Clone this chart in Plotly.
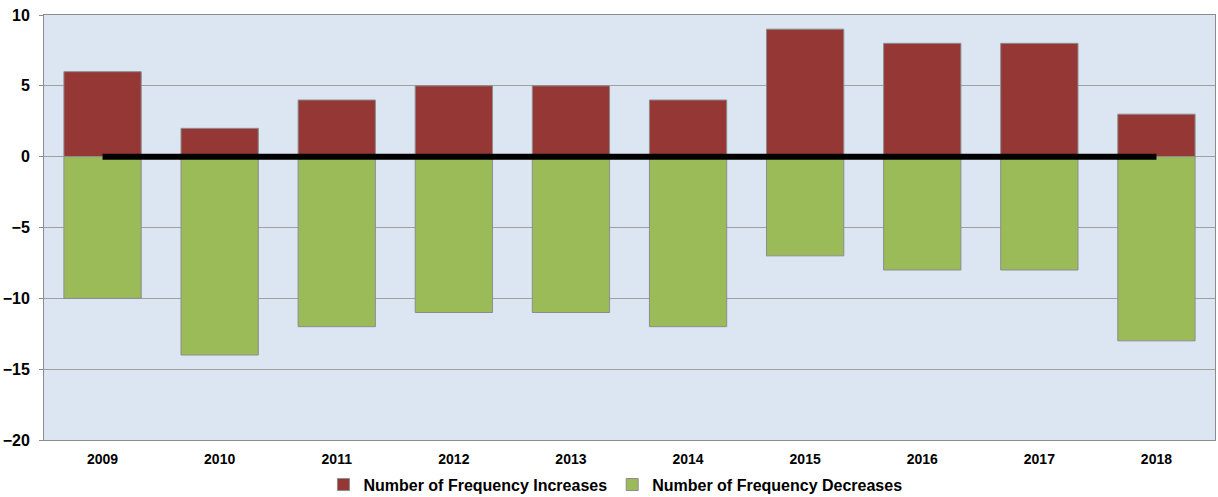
import plotly.graph_objects as go

years = ["2009", "2010", "2011", "2012", "2013", "2014", "2015", "2016", "2017", "2018"]
increases = [6, 2, 4, 5, 5, 4, 9, 8, 8, 3]
decreases = [-10, -14, -12, -11, -11, -12, -7, -8, -8, -13]
baseline = [0] * len(years)

fig = go.Figure()
fig.add_trace(go.Bar(x=years, y=increases, name="Number of Frequency Increases",
                     marker=dict(color="#953735", line=dict(color="#8c8c8c", width=1))))
fig.add_trace(go.Bar(x=years, y=decreases, name="Number of Frequency Decreases",
                     marker=dict(color="#9bbb59", line=dict(color="#8c8c8c", width=1))))
fig.add_trace(go.Scatter(x=years, y=baseline, mode="lines", showlegend=False,
                         line=dict(color="black", width=6), hoverinfo="skip"))

fig.update_layout(
    width=1218, height=497,
    barmode="relative", bargap=0.34,
    plot_bgcolor="#dce6f2", paper_bgcolor="white",
    margin=dict(l=44, r=3, t=15, b=57, autoexpand=False),
    font=dict(family="Liberation Sans, Arial, sans-serif", color="black"),
    legend=dict(orientation="h", x=0.488, xanchor="center", y=-0.105, yanchor="middle",
                font=dict(size=16, family="Liberation Sans, Arial, sans-serif", weight="bold"),
                itemwidth=30, traceorder="normal"),
    xaxis=dict(showgrid=False, showline=True, linecolor="#8c8c8c", linewidth=1, mirror=True,
               tickfont=dict(size=14, weight="bold"), ticks="", ticklabelstandoff=6,
               automargin=False),
    yaxis=dict(range=[-20, 10], dtick=5, showgrid=True, gridcolor="#a0a0a0", gridwidth=1,
               showline=True, linecolor="#8c8c8c", linewidth=1, mirror=True,
               zeroline=False, ticks="outside", ticklen=4, tickcolor="#8c8c8c",
               ticklabelstandoff=6,
               tickfont=dict(size=16, weight="bold"), automargin=False),
)
fig.write_html("out.html", config={"displayModeBar": False},
               post_script="document.body.style.margin='0';document.body.style.overflow='hidden';")
